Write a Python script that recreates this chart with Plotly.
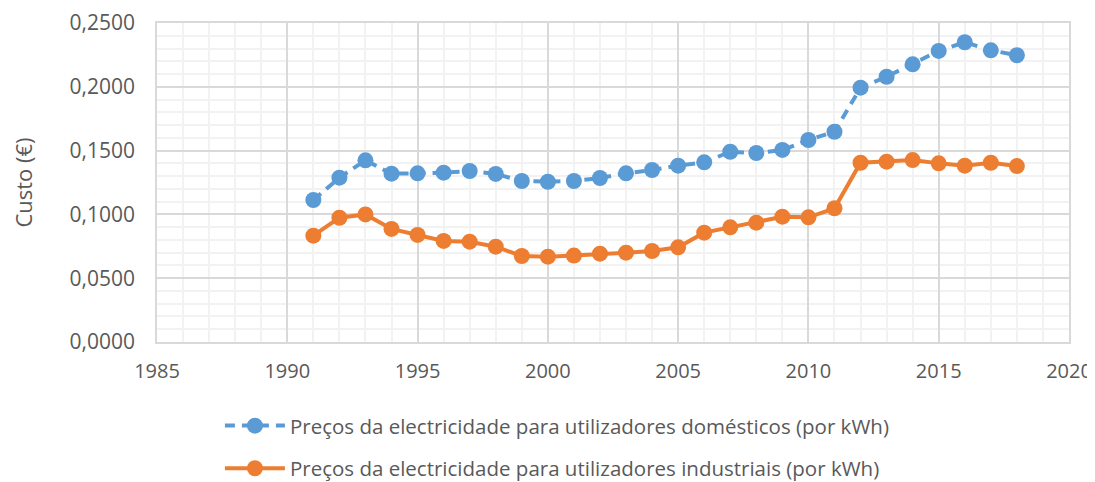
import plotly.graph_objects as go

years = list(range(1991, 2019))
domesticos = [0.1113, 0.1288, 0.1424, 0.1319, 0.1322, 0.1327, 0.1340, 0.1317, 0.1262, 0.1256,
              0.1262, 0.1285, 0.1322, 0.1348, 0.1382, 0.1408, 0.1491, 0.1481, 0.1505, 0.1583,
              0.1648, 0.1993, 0.2079, 0.2176, 0.2281, 0.2349, 0.2286, 0.2247]
industriais = [0.0833, 0.0974, 0.1000, 0.0886, 0.0839, 0.0792, 0.0786, 0.0747, 0.0674, 0.0669,
               0.0677, 0.0692, 0.0700, 0.0713, 0.0742, 0.0857, 0.0899, 0.0935, 0.0982, 0.0977,
               0.1048, 0.1405, 0.1413, 0.1426, 0.1400, 0.1382, 0.1405, 0.1379]
name_dom = "Preços da electricidade para utilizadores domésticos (por kWh)"
name_ind = "Preços da electricidade para utilizadores industriais (por kWh)"
y_tickvals = [0, 0.05, 0.10, 0.15, 0.20, 0.25]
y_ticktext = ["0,0000", "0,0500", "0,1000", "0,1500", "0,2000", "0,2500"]

BLUE = "#5B9BD5"
ORANGE = "#ED7D31"
TXT = "#595959"
FONT = "Open Sans"

fig = go.Figure()
fig.add_trace(go.Scatter(x=years, y=domesticos, name=name_dom, mode="lines+markers",
                         line=dict(color=BLUE, width=4, dash="10px,7px"),
                         marker=dict(color=BLUE, size=16), legendgroup="a"))
fig.add_trace(go.Scatter(x=years, y=industriais, name=name_ind, mode="lines+markers",
                         line=dict(color=ORANGE, width=4),
                         marker=dict(color=ORANGE, size=16), legendgroup="b"))

# The page body has an 8px margin, so the figure is sized 8px smaller each way.
fig.update_layout(
    width=1087, height=474,
    margin=dict(l=149, r=26, t=15, b=140, autoexpand=False),
    paper_bgcolor="white", plot_bgcolor="white",
    font=dict(family=FONT, color=TXT, size=18),
    showlegend=True,
    legend=dict(orientation="v", x=0.069, y=-0.2, xanchor="left", yanchor="top",
                traceorder="grouped", tracegroupgap=13,
                font=dict(family=FONT, size=20.5, color=TXT), itemwidth=60,
                borderwidth=0, bgcolor="rgba(0,0,0,0)"),
    xaxis=dict(range=[1985, 2020], tickvals=[1985, 1990, 1995, 2000, 2005, 2010, 2015, 2020],
               showgrid=True, gridcolor="#D9D9D9", gridwidth=1.5,
               minor=dict(dtick=1, showgrid=True, gridcolor="#F2F2F2", gridwidth=1.5),
               showline=True, linecolor="#D9D9D9", linewidth=1.5, mirror=True,
               zeroline=False, tickfont=dict(size=20, color=TXT), ticks="",
               ticklabelstandoff=10, automargin=False),
    yaxis=dict(range=[0, 0.25], tickvals=y_tickvals, ticktext=y_ticktext,
               showgrid=True, gridcolor="#D9D9D9", gridwidth=1.5,
               minor=dict(dtick=0.01, showgrid=True, gridcolor="#F2F2F2", gridwidth=1.5),
               showline=True, linecolor="#D9D9D9", linewidth=1.5, mirror=True,
               zeroline=False, tickfont=dict(size=21, color=TXT), ticks="",
               ticklabelstandoff=16, automargin=False,
               title=dict(text="Custo (€)", font=dict(size=22, color=TXT), standoff=33)),
)

fig.write_html("out.html")
